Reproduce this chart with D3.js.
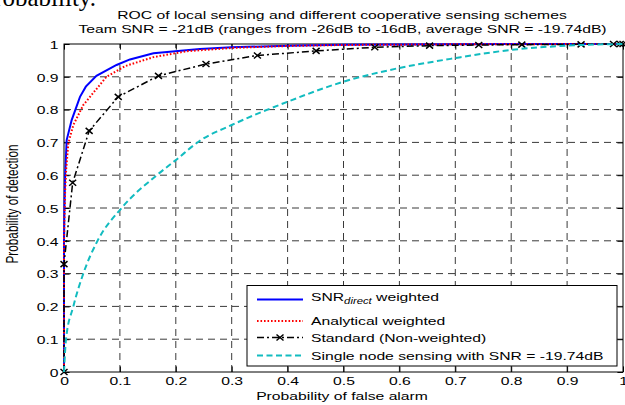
<!DOCTYPE html>
<html>
<head>
<meta charset="utf-8">
<script src="https://cdn.jsdelivr.net/npm/d3@7"></script>
<style>
  body { margin: 0; background: #fff; }
  svg { display: block; font-family: 'Liberation Sans', Arial, sans-serif; }
</style>
</head>
<body>
<svg id="chart" width="625" height="405"></svg>
<script>
// Chart dimensions and margins (plot box is 64..623 x 44..372)
const width = 625;
const height = 405;
const marginTop = 44;
const marginRight = 2;
const marginBottom = 33;
const marginLeft = 64;

// the figure was squeezed vertically, so text is drawn wide and flattened
const fontSize = 15.7;
const squash = 0.75;
const tickLen = 5.6;

// tick values and labels
const xTicks = [0, 0.1, 0.2, 0.3, 0.4, 0.5, 0.6, 0.7, 0.8, 0.9, 1];
const xTickLabels = ['0', '0.1', '0.2', '0.3', '0.4', '0.5', '0.6', '0.7', '0.8', '0.9', '1'];
const yTicks = [0, 0.1, 0.2, 0.3, 0.4, 0.5, 0.6, 0.7, 0.8, 0.9, 1];
const yTickLabels = ['0', '0.1', '0.2', '0.3', '0.4', '0.5', '0.6', '0.7', '0.8', '0.9', '1'];

const titleLines = [
  'ROC of local sensing and different cooperative sensing schemes',
  'Team SNR = -21dB (ranges from -26dB to -16dB, average SNR = -19.74dB)',
];
const xLabel = 'Probability of false alarm';
const yLabel = 'Probability of detection';

// series
const directPfa = [0, 0, 0.0008, 0.002, 0.0048, 0.0137, 0.0286, 0.039, 0.058, 0.094, 0.118, 0.16, 0.243, 0.3, 0.4, 0.5, 0.7, 1];
const directPd = [0, 0.4, 0.5, 0.6, 0.707, 0.768, 0.839, 0.87, 0.903, 0.936, 0.953, 0.972, 0.985, 0.99, 0.995, 0.998, 0.9995, 1];

const analyticPfa = [0, 0, 0.0007, 0.002, 0.004, 0.0077, 0.0167, 0.0345, 0.076, 0.11, 0.16, 0.22, 0.3, 0.4, 0.5, 0.7, 1];
const analyticPd = [0, 0.4, 0.46, 0.55, 0.62, 0.697, 0.753, 0.814, 0.9, 0.933, 0.96, 0.978, 0.988, 0.994, 0.997, 0.999, 1];

const standardPfa = [0, 0, 0.0155, 0.045, 0.097, 0.169, 0.254, 0.346, 0.451, 0.556, 0.654, 0.742, 0.819, 0.925, 0.983, 0.995, 1];
const standardPd = [0, 0.329, 0.577, 0.735, 0.839, 0.903, 0.939, 0.965, 0.979, 0.99, 0.995, 0.997, 0.998, 0.999, 1, 1, 1];

const singlePfa = [0, 0.0036, 0.0167, 0.0345, 0.06, 0.103, 0.166, 0.2, 0.243, 0.3, 0.4, 0.5, 0.6, 0.7, 0.8, 0.9, 1];
const singlePd = [0, 0.1, 0.2, 0.3, 0.4, 0.5, 0.6, 0.646, 0.705, 0.753, 0.824, 0.885, 0.927, 0.957, 0.982, 0.995, 1];

const legendLabels = ['weighted', 'Analytical weighted', 'Standard (Non-weighted)', 'Single node sensing with SNR = -19.74dB'];

const series = [
  { pfa: directPfa, pd: directPd, color: '#0000ff', width: 2, dash: null, curve: d3.curveLinear },
  { pfa: analyticPfa, pd: analyticPd, color: '#ff0000', width: 2, dash: '1.6,1.9', curve: d3.curveLinear },
  { pfa: standardPfa, pd: standardPd, color: '#000000', width: 1.5, dash: '7,3,2,3', curve: d3.curveLinear, marker: true },
  { pfa: singlePfa, pd: singlePd, color: '#12bcc0', width: 2, dash: '6,3.5', curve: d3.curveMonotoneX },
];

const svg = d3.select('#chart');

const x = d3.scaleLinear([0, 1], [marginLeft, width - marginRight]);
const y = d3.scaleLinear([0, 1], [height - marginBottom, marginTop]);

function addText(g, tx, ty, str, anchor, rotated) {
  return g
    .append('text')
    .attr('transform', `translate(${tx},${ty}) scale(1,${squash})${rotated ? ' rotate(-90)' : ''}`)
    .attr('text-anchor', anchor)
    .attr('font-size', fontSize)
    .attr('fill', '#000')
    .text(str);
}

// page text cut off above the figure
svg
  .append('text')
  .attr('x', 96)
  .attr('y', 5.5)
  .attr('text-anchor', 'end')
  .attr('font-family', "'Liberation Serif', 'Times New Roman', serif")
  .attr('font-size', 25)
  .text('probability.');

// dashed grid
const gridDash = '7,5';
svg
  .append('g')
  .selectAll('line')
  .data(xTicks.filter((d) => d > 0 && d < 1))
  .join('line')
  .attr('x1', (d) => x(d))
  .attr('x2', (d) => x(d))
  .attr('y1', y(0))
  .attr('y2', y(1))
  .attr('stroke', '#3a3a3a')
  .attr('stroke-dasharray', gridDash);
svg
  .append('g')
  .selectAll('line')
  .data(yTicks.filter((d) => d > 0 && d < 1))
  .join('line')
  .attr('x1', x(0))
  .attr('x2', x(1))
  .attr('y1', (d) => y(d))
  .attr('y2', (d) => y(d))
  .attr('stroke', '#3a3a3a')
  .attr('stroke-dasharray', gridDash);

// axes with ticks pointing inward on all four sides
const gx = svg
  .append('g')
  .attr('transform', `translate(0,${y(0)})`)
  .call(
    d3.axisBottom(x)
      .tickValues(xTicks)
      .tickFormat((d, i) => xTickLabels[i])
      .tickSizeInner(-tickLen)
      .tickSizeOuter(0)
  );
gx.selectAll('text')
  .attr('y', null)
  .attr('dy', null)
  .attr('transform', `translate(0,12.8) scale(1,${squash})`);

svg
  .append('g')
  .attr('transform', `translate(0,${y(1)})`)
  .call(d3.axisTop(x).tickValues(xTicks).tickFormat('').tickSizeInner(-tickLen).tickSizeOuter(0));

const gy = svg
  .append('g')
  .attr('transform', `translate(${x(0)},0)`)
  .call(
    d3.axisLeft(y)
      .tickValues(yTicks)
      .tickFormat((d, i) => yTickLabels[i])
      .tickSizeInner(-tickLen)
      .tickSizeOuter(0)
  );
gy.selectAll('text')
  .attr('x', null)
  .attr('dy', null)
  .attr('transform', `translate(-5.5,4.2) scale(1,${squash})`);

svg
  .append('g')
  .attr('transform', `translate(${x(1)},0)`)
  .call(d3.axisRight(y).tickValues(yTicks).tickFormat('').tickSizeInner(-tickLen).tickSizeOuter(0));

svg.selectAll('.domain').remove();
svg.selectAll('.tick line').attr('stroke', '#000');
svg.selectAll('.tick text').attr('fill', '#000');
svg.selectAll('g[font-size]').attr('font-size', fontSize).attr('font-family', null);

svg
  .append('rect')
  .attr('x', x(0))
  .attr('y', y(1))
  .attr('width', x(1) - x(0))
  .attr('height', y(0) - y(1))
  .attr('fill', 'none')
  .attr('stroke', '#000');

// titles and axis labels
const labels = svg.append('g');
addText(labels, 342, 18.5, titleLines[0], 'middle');
addText(labels, 342.5, 32.5, titleLines[1], 'middle');
addText(labels, 342, 400, xLabel, 'middle');
addText(labels, 17.5, 204, yLabel, 'middle', true);

// curves
const line = d3.line().x((d) => x(d[0])).y((d) => y(d[1]));
const xMark = 'M-3.5,-3L3.5,3M-3.5,3L3.5,-3';

series.forEach((s) => {
  const pts = d3.zip(s.pfa, s.pd);
  svg
    .append('path')
    .datum(pts)
    .attr('d', line.curve(s.curve))
    .attr('fill', 'none')
    .attr('stroke', s.color)
    .attr('stroke-width', s.width)
    .attr('stroke-dasharray', s.dash);
  if (s.marker) {
    svg
      .append('g')
      .selectAll('path')
      .data(pts)
      .join('path')
      .attr('transform', (d) => `translate(${x(d[0])},${y(d[1])})`)
      .attr('d', xMark)
      .attr('stroke', s.color)
      .attr('stroke-width', 1.5);
  }
});

// legend
const legend = svg.append('g');
legend
  .append('rect')
  .attr('x', 247)
  .attr('y', 285.5)
  .attr('width', 370)
  .attr('height', 80.5)
  .attr('fill', '#fff')
  .attr('stroke', '#000');

const rowLineY = [299.5, 321, 337.5, 355.5];
const rowTextY = [300.5, 325, 341.5, 359.5];

series.forEach((s, i) => {
  legend
    .append('line')
    .attr('x1', 257)
    .attr('x2', 303)
    .attr('y1', rowLineY[i])
    .attr('y2', rowLineY[i])
    .attr('stroke', s.color)
    .attr('stroke-width', s.width)
    .attr('stroke-dasharray', s.dash);
  if (s.marker) {
    legend
      .append('path')
      .attr('transform', `translate(280,${rowLineY[i]})`)
      .attr('d', xMark)
      .attr('stroke', s.color)
      .attr('stroke-width', 1.5);
  }
  if (i === 0) {
    const t = addText(legend, 311, rowTextY[i], '', 'start');
    t.append('tspan').text('SNR');
    t.append('tspan')
      .attr('font-style', 'italic')
      .attr('font-size', fontSize * 0.72)
      .attr('dy', 4.5)
      .text('direct');
    t.append('tspan').attr('dy', -4.5).text(' ' + legendLabels[0]);
  } else {
    addText(legend, 311, rowTextY[i], legendLabels[i], 'start');
  }
});
</script>
</body>
</html>
